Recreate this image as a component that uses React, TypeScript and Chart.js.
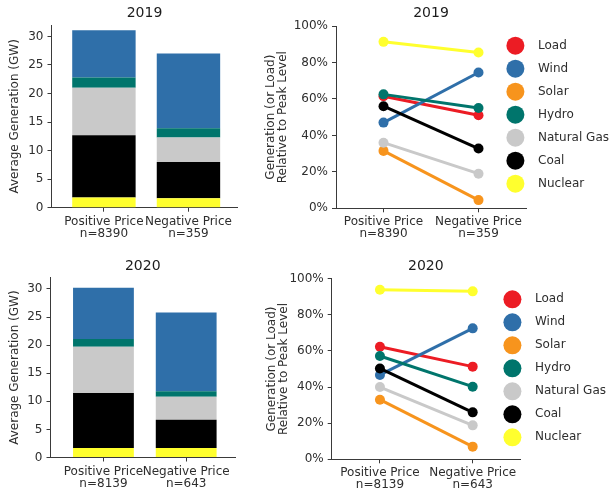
import React, { useEffect, useRef } from 'react';
import { Chart, registerables } from 'chart.js';

Chart.register(...registerables);

const FONT = "'DejaVu Sans', 'Liberation Sans', sans-serif";
const TEXT_COLOR = '#2e2e2e';
const TITLE_COLOR = '#1c1c1c';
const AXIS_COLOR = '#3a3a3a';

// ---------- categories / tick labels ----------
const priceCategories = ['Positive Price', 'Negative Price'];
const counts2019 = ['n=8390', 'n=359'];
const counts2020 = ['n=8139', 'n=643'];
const gwTicks = [0, 5, 10, 15, 20, 25, 30];
const pctTicks = [0, 20, 40, 60, 80, 100];

// ---------- stacked bars: average generation (GW), [positive, negative] ----------
const barSeries = ['Nuclear', 'Coal', 'Natural Gas', 'Hydro', 'Wind'];
const bar2019Nuclear = [1.8, 1.65];
const bar2019Coal = [10.9, 6.35];
const bar2019Gas = [8.3, 4.3];
const bar2019Hydro = [1.8, 1.6];
const bar2019Wind = [8.3, 13.1];
const bar2020Nuclear = [1.7, 1.7];
const bar2020Coal = [9.8, 5.0];
const bar2020Gas = [8.2, 4.1];
const bar2020Hydro = [1.4, 1.0];
const bar2020Wind = [9.1, 14.0];

// ---------- lines: generation (or load) relative to peak (%), [positive, negative] ----------
const lineSeries = ['Load', 'Wind', 'Solar', 'Hydro', 'Natural Gas', 'Coal', 'Nuclear'];
const rel2019Load = [61.5, 51.0];
const rel2019Wind = [47.0, 74.5];
const rel2019Solar = [31.5, 4.5];
const rel2019Hydro = [62.5, 55.0];
const rel2019Gas = [36.0, 19.0];
const rel2019Coal = [56.0, 32.8];
const rel2019Nuclear = [91.3, 85.5];
const rel2020Load = [62.3, 51.3];
const rel2020Wind = [46.7, 72.5];
const rel2020Solar = [33.0, 7.0];
const rel2020Hydro = [57.2, 40.2];
const rel2020Gas = [40.0, 18.8];
const rel2020Coal = [50.3, 26.0];
const rel2020Nuclear = [93.9, 93.0];

const seriesColors: Record<string, string> = {
  Load: '#ec1c24',
  Wind: '#2f6fa9',
  Solar: '#f7941d',
  Hydro: '#00756c',
  'Natural Gas': '#c9c9c9',
  Coal: '#000000',
  Nuclear: '#ffff2e',
};

// moves the legend box to a fixed spot after layout
const placeLegend = {
  id: 'placeLegend',
  afterLayout(chart: any, _args: any, opts: any) {
    const lg = chart.legend;
    if (!lg || opts == null || opts.left == null) return;
    const w = lg.width;
    const h = lg.height;
    lg.left = opts.left;
    lg.right = opts.left + w;
    lg.top = opts.top;
    lg.bottom = opts.top + h;
  },
};

// draws large round legend markers at the library-computed legend item boxes
const legendDots = {
  id: 'legendDots',
  afterDraw(chart: any, _args: any, opts: any) {
    const lg = chart.legend;
    if (!lg || !opts || !opts.enabled || !lg.legendItems || !lg.legendHitBoxes) return;
    const ctx = chart.ctx;
    lg.legendItems.forEach((item: any, i: number) => {
      const hb = lg.legendHitBoxes[i];
      if (!hb) return;
      ctx.save();
      ctx.fillStyle = seriesColors[lineSeries[item.datasetIndex]];
      ctx.beginPath();
      ctx.arc(hb.left + opts.dx, hb.top + hb.height / 2, opts.r, 0, Math.PI * 2);
      ctx.fill();
      ctx.restore();
    });
  },
};

function xAxis(min: number, max: number, counts: string[], height: number, stacked: boolean) {
  return {
    type: 'linear',
    min,
    max,
    stacked,
    offset: false,
    afterBuildTicks: (s: any) => {
      s.ticks = priceCategories.map((_, i) => ({ value: i }));
    },
    afterFit: (s: any) => {
      s.height = height;
    },
    grid: { display: true, offset: false, drawOnChartArea: false, drawTicks: true, tickLength: 4, color: AXIS_COLOR, lineWidth: 1 },
    border: { display: true, color: AXIS_COLOR, width: 1 },
    ticks: {
      autoSkip: false,
      maxRotation: 0,
      minRotation: 0,
      padding: 4,
      color: TEXT_COLOR,
      font: { size: 12, family: FONT, lineHeight: 1.0 },
      callback: (v: any) => {
        const i = Math.round(Number(v));
        return [priceCategories[i], counts[i]];
      },
    },
  };
}

function yAxis(max: number, ticks: number[], width: number, title: any, titlePad: number, lineHeight: number, fmt: (v: number) => string, stacked: boolean) {
  return {
    type: 'linear',
    min: 0,
    max,
    stacked,
    afterBuildTicks: (s: any) => {
      s.ticks = ticks.map((v) => ({ value: v }));
    },
    afterFit: (s: any) => {
      s.width = width;
    },
    grid: { display: true, drawOnChartArea: false, drawTicks: true, tickLength: 4, color: AXIS_COLOR, lineWidth: 1 },
    border: { display: true, color: AXIS_COLOR, width: 1 },
    ticks: {
      padding: 4,
      color: TEXT_COLOR,
      font: { size: 12, family: FONT },
      callback: (v: any) => fmt(Number(v)),
    },
    title: {
      display: true,
      text: title,
      color: TEXT_COLOR,
      font: { size: 12, family: FONT, lineHeight },
      padding: { top: titlePad, bottom: 0 },
    },
  };
}

function titleOpts(text: string, top: number, bottom: number) {
  return {
    display: true,
    text,
    fullSize: false,
    color: TITLE_COLOR,
    font: { size: 14, weight: 'normal', family: FONT, lineHeight: 1.2 },
    padding: { top, bottom },
  };
}

type BarGeom = { padRight: number; yWidth: number; xHeight: number; titleTop: number; titleBottom: number; xMin: number; xMax: number; barPct: number };

function barConfig(year: string, values: number[][], counts: string[], g: BarGeom) {
  return {
    type: 'bar',
    data: {
      datasets: barSeries.map((name, k) => ({
        label: name,
        data: values[k].map((v, i) => ({ x: i, y: v })),
        backgroundColor: seriesColors[name],
        borderWidth: 0,
        categoryPercentage: 1,
        barPercentage: g.barPct,
      })),
    },
    options: {
      responsive: false,
      maintainAspectRatio: false,
      animation: false,
      events: [],
      layout: { padding: { left: 0, right: g.padRight, top: 0, bottom: 0 } },
      scales: {
        x: xAxis(g.xMin, g.xMax, counts, g.xHeight, true),
        y: yAxis(32, gwTicks, g.yWidth, 'Average Generation (GW)', 7.8, 1.2, (v) => String(v), true),
      },
      plugins: {
        legend: { display: false },
        tooltip: { enabled: false },
        title: titleOpts(year, g.titleTop, g.titleBottom),
      },
    },
  };
}

type LineGeom = { padRight: number; yWidth: number; xHeight: number; titleTop: number; titleBottom: number; xMin: number; xMax: number; yTitlePad: number; legendLeft: number; legendTop: number };

function lineConfig(year: string, values: number[][], counts: string[], g: LineGeom) {
  return {
    type: 'line',
    data: {
      datasets: lineSeries.map((name, k) => ({
        label: name,
        data: values[k].map((v, i) => ({ x: i, y: v })),
        borderColor: seriesColors[name],
        backgroundColor: seriesColors[name],
        pointBackgroundColor: seriesColors[name],
        pointBorderColor: seriesColors[name],
        pointBorderWidth: 0,
        pointRadius: 5,
        borderWidth: 3,
        tension: 0,
        fill: false,
        order: lineSeries.length - 1 - k,
      })),
    },
    options: {
      responsive: false,
      maintainAspectRatio: false,
      animation: false,
      events: [],
      layout: { padding: { left: 0, right: g.padRight, top: 0, bottom: 0 } },
      scales: {
        x: xAxis(g.xMin, g.xMax, counts, g.xHeight, false),
        y: yAxis(100, pctTicks, g.yWidth, ['Generation (or Load)', 'Relative to Peak Level'], g.yTitlePad, 1.05, (v) => `${v}%`, false),
      },
      plugins: {
        tooltip: { enabled: false },
        title: titleOpts(year, g.titleTop, g.titleBottom),
        legend: {
          display: true,
          position: 'chartArea',
          align: 'start',
          labels: {
            usePointStyle: true,
            pointStyle: 'circle',
            padding: 11,
            color: TEXT_COLOR,
            font: { size: 12, family: FONT },
            sort: (a: any, b: any) => a.datasetIndex - b.datasetIndex,
            generateLabels: (chart: any) => {
              const base = (Chart.defaults as any).plugins.legend.labels.generateLabels(chart);
              return base.map((item: any) => ({
                ...item,
                pointStyle: 'circle',
                fillStyle: 'rgba(0,0,0,0)',
                strokeStyle: 'rgba(0,0,0,0)',
                lineWidth: 0,
              }));
            },
          },
        },
        placeLegend: { left: g.legendLeft, top: g.legendTop },
        legendDots: { enabled: true, dx: -4.6, r: 9 },
      },
    },
    plugins: [placeLegend, legendDots],
  };
}

function ChartBox({ left, top, width, height, build }: { left: number; top: number; width: number; height: number; build: () => any }) {
  const ref = useRef<HTMLCanvasElement | null>(null);
  useEffect(() => {
    if (!ref.current) return;
    const chart = new Chart(ref.current, build());
    return () => chart.destroy();
  }, []);
  return (
    <canvas
      ref={ref}
      width={width}
      height={height}
      style={{ position: 'absolute', left, top, width, height, display: 'block' }}
    />
  );
}

export default function App() {
  return (
    <div style={{ position: 'absolute', left: 0, top: 0, width: 609, height: 491, background: '#ffffff', overflow: 'hidden' }}>
      <ChartBox
        left={0}
        top={0}
        width={250}
        height={245}
        build={() =>
          barConfig('2019', [bar2019Nuclear, bar2019Coal, bar2019Gas, bar2019Hydro, bar2019Wind], counts2019, {
            padRight: 12.5, yWidth: 51.5, xHeight: 37.3, titleTop: 4.9, titleBottom: 3.3, xMin: -0.62, xMax: 1.58, barPct: 0.75,
          })
        }
      />
      <ChartBox
        left={250}
        top={0}
        width={359}
        height={245}
        build={() =>
          lineConfig('2019', [rel2019Load, rel2019Wind, rel2019Solar, rel2019Hydro, rel2019Gas, rel2019Coal, rel2019Nuclear], counts2019, {
            padRight: 83, yWidth: 86, xHeight: 36.7, titleTop: 4.9, titleBottom: 4.3, xMin: -0.5, xMax: 1.5, yTitlePad: 14.4, legendLeft: 259, legendTop: 28.7,
          })
        }
      />
      <ChartBox
        left={0}
        top={245}
        width={250}
        height={246}
        build={() =>
          barConfig('2020', [bar2020Nuclear, bar2020Coal, bar2020Gas, bar2020Hydro, bar2020Wind], counts2020, {
            padRight: 15, yWidth: 50.5, xHeight: 33.5, titleTop: 13.3, titleBottom: 2.6, xMin: -0.64, xMax: 1.59, barPct: 0.735,
          })
        }
      />
      <ChartBox
        left={250}
        top={245}
        width={359}
        height={246}
        build={() =>
          lineConfig('2020', [rel2020Load, rel2020Wind, rel2020Solar, rel2020Hydro, rel2020Gas, rel2020Coal, rel2020Nuclear], counts2020, {
            padRight: 89, yWidth: 81.7, xHeight: 31.7, titleTop: 13.3, titleBottom: 3.6, xMin: -0.52, xMax: 1.51, yTitlePad: 15.4, legendLeft: 256, legendTop: 37.3,
          })
        }
      />
    </div>
  );
}
